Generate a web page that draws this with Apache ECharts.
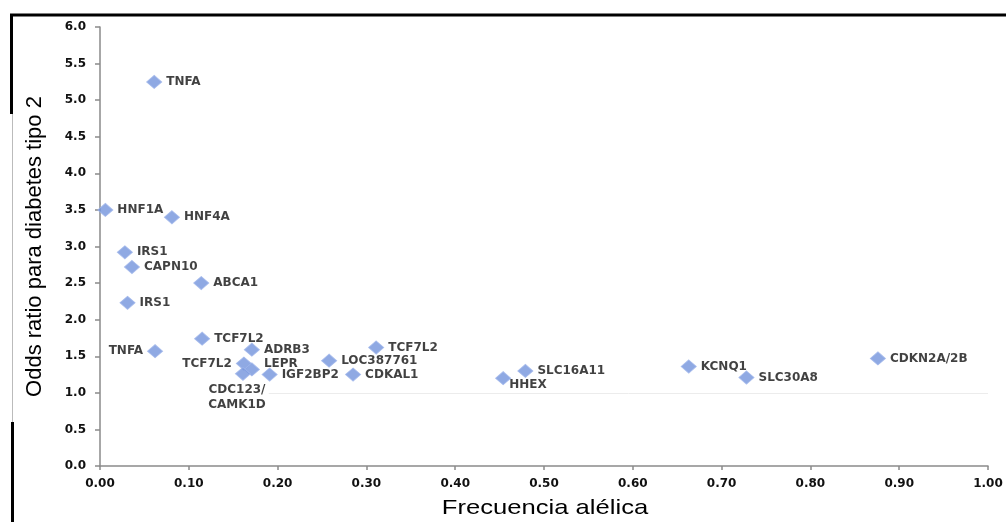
<!DOCTYPE html>
<html>
<head>
<meta charset="utf-8">
<script src="https://cdn.jsdelivr.net/npm/echarts@6/dist/echarts.min.js"></script>
<style>html,body{margin:0;padding:0;background:#fff}#c{width:1006px;height:522px}</style>
</head>
<body>
<div id="c"></div>
<script>
// ---- data ----
const genes = ['TNFA','HNF1A','HNF4A','IRS1','CAPN10','ABCA1','IRS1','TNFA','TCF7L2','ADRB3','TCF7L2','LEPR','CDC123/\nCAMK1D','IGF2BP2','LOC387761','CDKAL1','TCF7L2','HHEX','SLC16A11','KCNQ1','SLC30A8','CDKN2A/2B'];
const alleleFreq = [0.061,0.006,0.081,0.028,0.036,0.114,0.031,0.062,0.115,0.171,0.162,0.171,0.161,0.191,0.258,0.285,0.311,0.454,0.479,0.663,0.728,0.876];
const oddsRatio = [5.25,3.50,3.40,2.92,2.72,2.50,2.23,1.57,1.74,1.59,1.40,1.32,1.26,1.25,1.44,1.25,1.62,1.20,1.30,1.36,1.21,1.47];
const xTicks = ['0.00','0.10','0.20','0.30','0.40','0.50','0.60','0.70','0.80','0.90','1.00'];
const yTicks = ['0.0','0.5','1.0','1.5','2.0','2.5','3.0','3.5','4.0','4.5','5.0','5.5','6.0'];
const xTitle = 'Frecuencia alélica';
const yTitle = 'Odds ratio para diabetes tipo 2';

// ---- label placement overrides (style, by point index) ----
const labelOverrides = {
  7: {position: 'left'},
  10: {position: 'left'},
  11: {offset: [0, -6]},
  12: {position: 'bottom', distance: 2, align: 'center', offset: [-6, 0], lineHeight: 15},
  17: {position: 'right', distance: 0, offset: [-2, 7]}
};

const pts = genes.map((g, i) => {
  const item = {value: [alleleFreq[i], oddsRatio[i]], name: g};
  if (labelOverrides[i]) item.label = labelOverrides[i];
  return item;
});

const labelFont = {fontFamily: 'DejaVu Sans', fontWeight: 'bold', fontSize: 12, color: '#111'};

const chart = echarts.init(document.getElementById('c'), null, {renderer: 'canvas'});
chart.setOption({
  animation: false,
  backgroundColor: '#fff',
  grid: {left: 100, right: 18, top: 27, bottom: 56},
  xAxis: {
    type: 'value', min: 0, max: 1, interval: 0.1,
    name: '',
    axisLine: {show: true, lineStyle: {color: '#8a8a8a', width: 1.5}},
    axisTick: {show: true, length: 4, lineStyle: {color: '#8a8a8a', width: 1.5}},
    splitLine: {show: false},
    axisLabel: {
      margin: 12, fontFamily: 'DejaVu Sans', fontWeight: 'bold', fontSize: 12, color: '#111',
      formatter: v => xTicks[Math.round(v * 10)]
    }
  },
  yAxis: {
    type: 'value', min: 0, max: 6, interval: 0.5,
    name: yTitle, nameLocation: 'middle', nameGap: 54,
    nameTextStyle: {fontFamily: 'Liberation Sans', fontSize: 22, color: '#000'},
    axisLine: {show: true, lineStyle: {color: '#8a8a8a', width: 1.5}},
    axisTick: {show: true, length: 5, lineStyle: {color: '#8a8a8a', width: 1.5}},
    splitLine: {show: false},
    axisLabel: {
      margin: 14, fontFamily: 'DejaVu Sans', fontWeight: 'bold', fontSize: 12, color: '#111',
      formatter: v => yTicks[Math.round(v * 2)]
    }
  },
  series: [{
    type: 'scatter',
    symbol: 'diamond',
    symbolSize: [15, 13],
    itemStyle: {color: '#7393dc', borderColor: '#9db4ea', borderWidth: 1},
    label: Object.assign({show: true, position: 'right', distance: 4, formatter: '{b}'}, labelFont),
    data: pts,
    markLine: {
      silent: true, symbol: 'none', label: {show: false},
      lineStyle: {color: '#ececec', width: 1, type: 'solid'},
      data: [[{coord: [0.19, 1]}, {coord: [1, 1]}]]
    },
    z: 3
  }],
  graphic: [
    {type: 'line', shape: {x1: 10, y1: 15, x2: 1006, y2: 15}, style: {stroke: '#000', lineWidth: 3}},
    {type: 'line', shape: {x1: 11.5, y1: 14, x2: 11.5, y2: 114}, style: {stroke: '#000', lineWidth: 3}},
    {type: 'line', shape: {x1: 12.5, y1: 114, x2: 12.5, y2: 422}, style: {stroke: '#bbb', lineWidth: 1}},
    {type: 'line', shape: {x1: 12.5, y1: 422, x2: 12.5, y2: 522}, style: {stroke: '#000', lineWidth: 3}},
    {type: 'text', x: 545, y: 508, scaleX: 1.22,
     style: {text: xTitle, fontFamily: 'Liberation Sans', fontSize: 21, fill: '#000', textAlign: 'center', textVerticalAlign: 'middle'}}
  ]
});
</script>
</body>
</html>
